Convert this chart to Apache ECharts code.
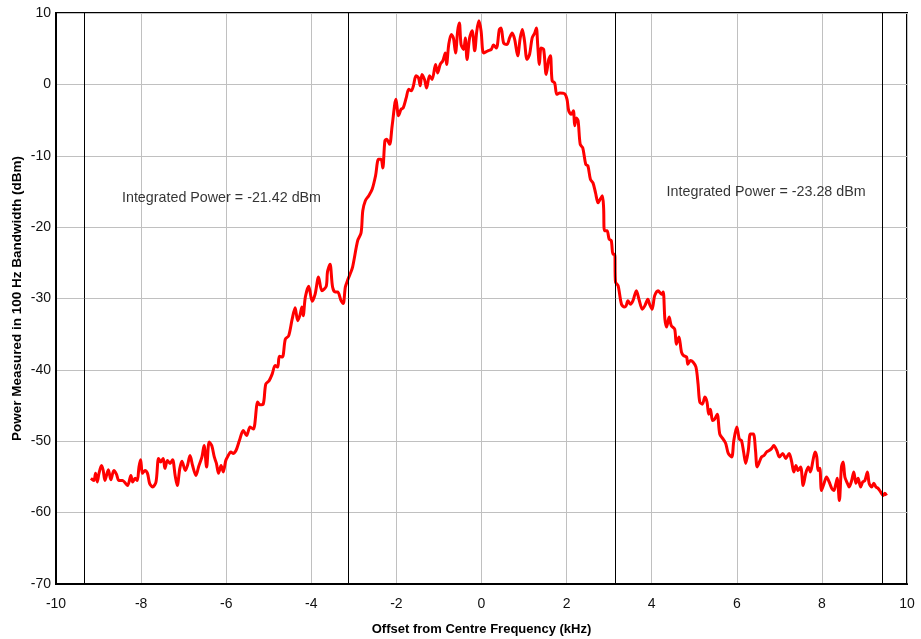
<!DOCTYPE html>
<html>
<head>
<meta charset="utf-8">
<script src="https://cdn.jsdelivr.net/npm/echarts@6/dist/echarts.min.js"></script>
<style>
html,body{margin:0;padding:0;background:#fff;}
#chart{width:921px;height:639px;}
</style>
</head>
<body>
<div id="chart"></div>
<script>
// Offset from centre frequency (kHz)
const freqKHz = [
-9.18,-9.11,-9.07,-9.03,-8.99,-8.93,-8.89,-8.85,-8.77,-8.71,
-8.64,-8.58,-8.52,-8.44,-8.32,-8.24,-8.20,-8.14,-8.09,-8.05,
-8.01,-7.97,-7.91,-7.85,-7.80,-7.73,-7.65,-7.59,-7.54,-7.48,
-7.44,-7.38,-7.32,-7.26,-7.20,-7.15,-7.09,-7.04,-6.96,-6.91,
-6.85,-6.79,-6.71,-6.65,-6.57,-6.52,-6.46,-6.40,-6.34,-6.28,
-6.23,-6.18,-6.12,-6.07,-6.01,-5.97,-5.89,-5.84,-5.77,-5.69,
-5.60,-5.52,-5.44,-5.36,-5.26,-5.21,-5.13,-5.07,-4.99,-4.92,
-4.85,-4.79,-4.75,-4.68,-4.61,-4.53,-4.45,-4.38,-4.32,-4.27,
-4.22,-4.19,-4.14,-4.06,-3.98,-3.91,-3.83,-3.75,-3.65,-3.62,
-3.56,-3.50,-3.44,-3.38,-3.30,-3.25,-3.20,-3.15,-3.09,-3.03,
-2.91,-2.83,-2.79,-2.73,-2.65,-2.57,-2.49,-2.42,-2.36,-2.32,
-2.27,-2.23,-2.16,-2.10,-2.01,-1.95,-1.89,-1.84,-1.77,-1.71,
-1.65,-1.60,-1.54,-1.48,-1.44,-1.40,-1.34,-1.29,-1.22,-1.16,
-1.08,-1.03,-0.97,-0.91,-0.85,-0.82,-0.77,-0.71,-0.66,-0.61,
-0.56,-0.52,-0.48,-0.42,-0.38,-0.34,-0.28,-0.22,-0.16,-0.11,
-0.06,
-0.01,0.05,0.15,0.23,0.28,0.35,0.42,0.46,0.52,0.60,
0.66,0.72,0.78,0.85,0.91,0.96,1.01,1.07,1.13,1.19,
1.25,1.29,1.32,1.36,1.40,1.46,1.52,1.58,1.62,1.66,
1.72,1.77,1.84,1.95,2.01,2.05,2.11,2.16,2.19,2.23,
2.27,2.32,2.38,2.45,2.50,2.56,2.62,2.68,2.74,2.79,
2.84,2.87,2.89,2.95,3.00,3.05,3.09,3.13,3.15,3.21,
3.29,3.36,
3.40,3.44,3.50,3.56,3.64,3.70,3.78,3.84,3.91,3.95,
4.01,4.07,4.15,4.23,4.27,4.31,4.35,4.41,4.46,4.54,
4.58,4.64,4.70,4.75,4.82,4.85,4.91,4.97,5.04,5.09,
5.13,5.19,5.25,5.30,5.34,5.38,5.43,5.48,5.54,5.60,
5.68,5.74,5.80,5.88,5.93,6.00,6.06,6.11,6.16,6.21,
6.27,6.32,6.39,6.44,6.48,
6.58,6.64,6.70,6.76,6.82,6.87,6.94,7.00,7.08,7.15,
7.23,7.29,7.34,7.39,7.44,7.50,7.56,7.62,7.68,7.73,
7.79,7.84,7.88,7.91,7.95,7.99,8.05,8.11,8.17,8.23,
8.28,8.33,8.36,8.41,8.46,8.50,8.54,8.60,8.64,8.70,
8.75,8.80,8.85,8.91,8.96,9.01,9.07,9.11,9.17,9.22,
9.27,9.32,9.38,9.44,9.48,9.52
];
// Power measured in 100 Hz bandwidth (dBm)
const powerDbm = [
-55.2,-55.5,-54.5,-55.7,-54.5,-53.4,-54.1,-55.5,-54.0,-55.4,
-54.1,-54.6,-55.5,-55.5,-56.2,-54.8,-55.7,-55.2,-55.5,-53.6,
-52.6,-54.5,-54.1,-54.5,-55.9,-56.4,-55.7,-52.4,-52.9,-52.4,
-53.8,-52.7,-53.1,-52.6,-54.8,-56.2,-53.8,-52.8,-54.1,-53.4,
-52.0,-53.4,-54.8,-53.6,-52.2,-50.6,-53.6,-50.1,-50.6,-52.2,
-53.1,-54.5,-53.4,-54.3,-52.7,-52.2,-51.5,-51.7,-51.3,-49.9,
-48.5,-49.2,-48.0,-48.3,-44.5,-44.9,-44.8,-42.0,-41.5,-40.6,
-39.4,-39.6,-38.1,-38.2,-35.7,-35.2,-32.9,-31.3,-33.1,-32.4,
-31.2,-32.4,-29.8,-28.3,-30.4,-29.4,-27.0,-28.9,-28.3,-26.3,
-25.2,-28.4,-29.1,-29.1,-30.3,-30.7,-28.4,-27.5,-26.6,-25.6,
-21.9,-20.8,-17.7,-16.3,-15.6,-14.7,-12.8,-10.5,-10.5,-11.7,
-7.9,-7.7,-8.4,-5.8,-2.1,-4.4,-3.5,-3.3,-1.9,-0.7,
-0.9,-0.2,1.2,0.9,-0.2,1.4,0.7,-0.5,1.2,0.7,
2.8,1.6,2.8,3.3,4.4,2.8,5.6,7.0,6.5,4.4,
7.5,8.6,5.6,4.9,6.5,3.5,6.5,7.5,4.7,7.5,
8.9,
7.5,4.4,4.7,4.9,5.5,5.1,7.7,7.9,5.8,5.6,
6.5,7.2,6.3,4.0,6.5,7.7,6.1,3.5,4.2,6.5,
7.2,7.9,5.6,2.8,5.1,4.9,1.4,3.5,4.0,0.5,
0.2,-1.4,-1.2,-1.3,-2.1,-3.7,-4.2,-3.7,-5.8,-4.7,
-5.1,-8.4,-8.9,-11.2,-11.4,-13.3,-13.8,-15.2,-16.6,-16.1,
-15.6,-17.3,-20.5,-20.5,-21.7,-21.9,-23.8,-23.8,-27.7,-28.2,
-30.8,-31.2,
-31.0,-30.3,-30.8,-30.3,-28.9,-30.1,-31.5,-31.0,-30.1,-30.8,
-31.5,-29.6,-28.9,-29.4,-29.1,-32.9,-34.0,-32.6,-33.8,-34.3,
-36.4,-35.4,-37.5,-38.0,-38.2,-39.2,-38.7,-38.9,-39.6,-42.0,
-44.5,-44.8,-43.8,-44.5,-46.2,-45.5,-47.1,-46.9,-46.2,-49.0,
-49.7,-50.3,-51.7,-52.2,-49.9,-48.0,-49.7,-49.9,-51.5,-53.1,
-51.3,-49.0,-49.0,-51.3,-53.6,
-52.2,-52.0,-51.5,-51.3,-51.0,-50.6,-51.3,-52.2,-51.7,-52.4,
-51.7,-52.9,-54.3,-53.4,-54.1,-53.6,-56.2,-54.5,-53.6,-54.3,
-52.7,-51.5,-52.2,-54.1,-53.8,-56.9,-55.9,-55.0,-55.7,-56.6,
-56.9,-55.9,-55.2,-58.3,-53.6,-52.9,-55.0,-55.9,-56.4,-55.5,
-54.3,-55.9,-55.2,-56.4,-55.7,-55.5,-54.3,-55.9,-56.4,-55.9,
-56.4,-56.6,-57.1,-57.6,-57.3,-57.6
];
// Integration band edges (kHz)
const bandEdges = [-9.33, -3.14, 3.14, 9.43];
// Annotations: text, anchor frequency (kHz), anchor power (dBm)
const annoText = ['Integrated Power = -21.42 dBm', 'Integrated Power = -23.28 dBm'];
const annoFreq = [-8.45, 4.35];
const annoPower = [-15.9, -15.1];
// Axis ranges
const xRange = [-10, 10, 2];
const yRange = [-70, 10, 10];

const n = Math.min(freqKHz.length, powerDbm.length);
const spectrum = [];
for (let i = 0; i < n; i++) spectrum.push([freqKHz[i], powerDbm[i]]);

const FONT = '"Liberation Sans", Arial, sans-serif';
const chart = echarts.init(document.getElementById('chart'), null, {renderer: 'canvas'});
chart.setOption({
  animation: false,
  backgroundColor: '#ffffff',
  grid: {left: 56, right: 14, top: 13, bottom: 55, show: true, borderColor: '#000', borderWidth: 2,
    containLabel: false, outerBoundsMode: 'none'},
  xAxis: {
    type: 'value', min: xRange[0], max: xRange[1], interval: xRange[2],
    name: 'Offset from Centre Frequency (kHz)', nameLocation: 'middle', nameGap: 39,
    nameTextStyle: {fontFamily: FONT, fontSize: 13, fontWeight: 'bold', color: '#000'},
    axisLine: {show: true, onZero: false, lineStyle: {color: '#000', width: 2}},
    axisTick: {show: false},
    axisLabel: {fontFamily: FONT, fontSize: 14, color: '#111', margin: 13},
    splitLine: {show: true, lineStyle: {color: '#c0c0c0', width: 1}}
  },
  yAxis: {
    type: 'value', min: yRange[0], max: yRange[1], interval: yRange[2],
    name: 'Power Measured in 100 Hz Bandwidth (dBm)', nameLocation: 'middle', nameGap: 32,
    nameMoveOverlap: false,
    nameTextStyle: {fontFamily: FONT, fontSize: 13.5, fontWeight: 'bold', color: '#000'},
    axisLine: {show: true, onZero: false, lineStyle: {color: '#000', width: 2}},
    axisTick: {show: false},
    axisLabel: {fontFamily: FONT, fontSize: 14, color: '#111', margin: 5},
    splitLine: {show: true, lineStyle: {color: '#c0c0c0', width: 1}}
  },
  series: [
    {
      type: 'line', data: [], z: 1, silent: true,
      markLine: {
        silent: true, symbol: ['none', 'none'], label: {show: false},
        lineStyle: {color: '#000', width: 1, type: 'solid'},
        data: bandEdges.map(v => ({xAxis: v}))
      }
    },
    {
      type: 'line', data: spectrum, z: 3, showSymbol: false, smooth: 0.3,
      lineStyle: {color: '#ff0000', width: 3}, itemStyle: {color: '#ff0000'}
    },
    {
      type: 'scatter', z: 4, symbolSize: 0, silent: true,
      data: annoText.map((t, i) => ({value: [annoFreq[i], annoPower[i]], name: t})),
      label: {show: true, position: 'right', distance: 0, formatter: p => p.name,
        fontFamily: FONT, fontSize: 14.3, color: '#000'}
    }
  ]
});
</script>
</body>
</html>
